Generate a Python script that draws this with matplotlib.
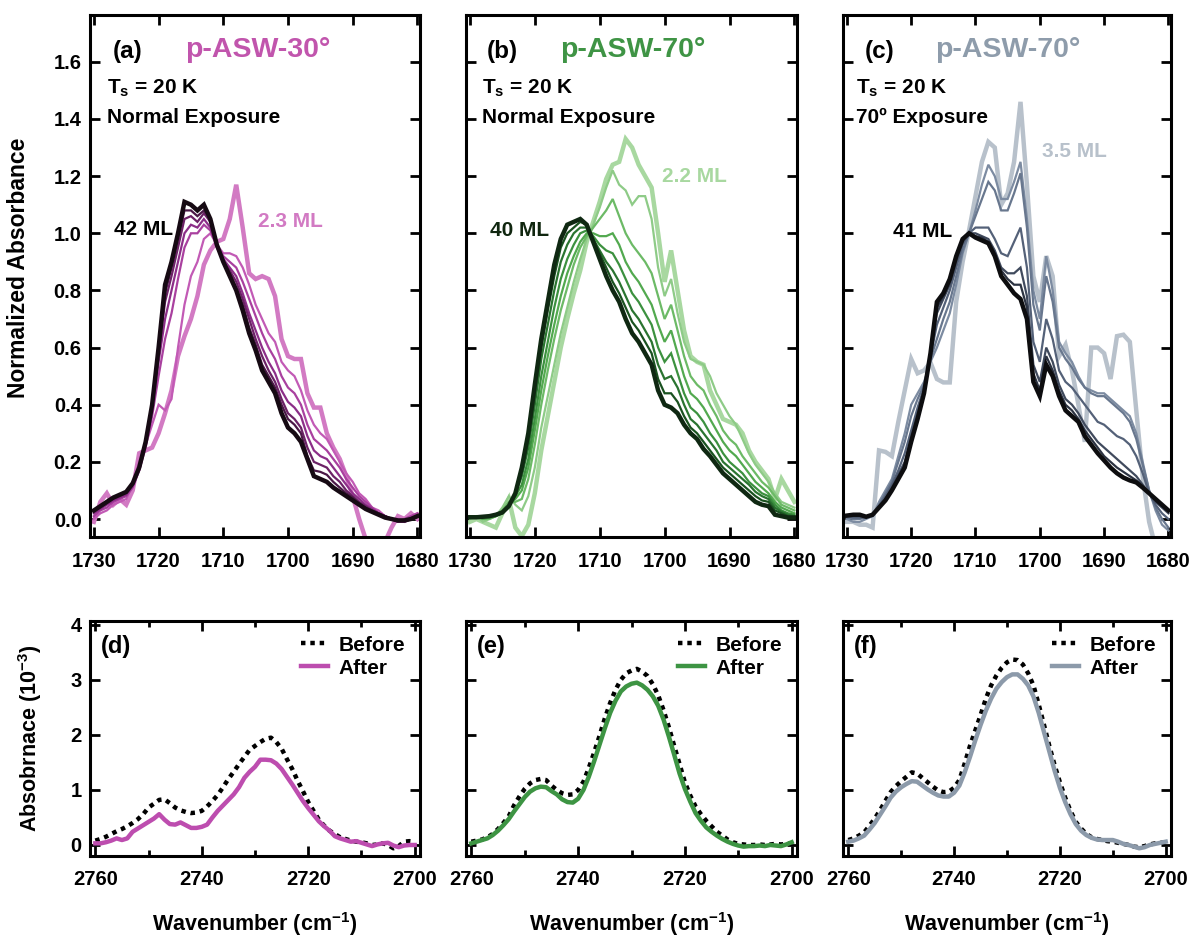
import numpy as np
import matplotlib
matplotlib.use('Agg')
from matplotlib import pyplot as plt
from matplotlib.ticker import MultipleLocator, FormatStrFormatter

plt.rcParams['font.family'] = ['Liberation Sans', 'DejaVu Sans']
plt.rcParams['font.weight'] = 'bold'
plt.rcParams['mathtext.fontset'] = 'custom'
plt.rcParams['mathtext.rm'] = 'Liberation Sans:bold'
plt.rcParams['mathtext.it'] = 'Liberation Sans:bold'
plt.rcParams['mathtext.bf'] = 'Liberation Sans:bold'

# wavenumber grids (cm-1)
wn_top = np.arange(1730, 1679, -1)
wn_bot = np.arange(2760, 2699, -1)

# ---- panel (a) p-ASW-30, 2.3 ML -> 42 ML
a_2 = [-0.01, 0.06, 0.09, 0.05, 0.07, 0.05, 0.10, 0.23, 0.24, 0.25,
       0.30, 0.37, 0.45, 0.57, 0.64, 0.70, 0.78, 0.89, 0.94, 0.97,
       0.98, 1.05, 1.17, 1.02, 0.86, 0.84, 0.85, 0.84, 0.78, 0.63,
       0.57, 0.56, 0.56, 0.44, 0.39, 0.39, 0.30, 0.25, 0.21, 0.15,
       0.08, 0.0, -0.07, -0.10, -0.10, -0.08, -0.03, 0.01, 0.0, 0.02, 0.0]
a_c1 = [0.0, 0.02, 0.03, 0.05, 0.06, 0.07, 0.12, 0.20, 0.26, 0.33,
        0.40, 0.38, 0.42, 0.60, 0.75, 0.85, 0.90, 0.98, 1.00, 0.96,
        0.93, 0.93, 0.92, 0.88, 0.82, 0.75, 0.70, 0.65, 0.62, 0.55,
        0.52, 0.50, 0.45, 0.38, 0.33, 0.30, 0.28, 0.24, 0.20, 0.16,
        0.13, 0.09, 0.07, 0.04, 0.03, 0.01, 0.0, 0.0, -0.01, 0.01, 0.02]
a_c2 = [0.01, 0.03, 0.04, 0.06, 0.07, 0.08, 0.11, 0.17, 0.25, 0.36,
        0.50, 0.63, 0.72, 0.84, 0.95, 1.00, 1.00, 1.03, 1.01, 0.96,
        0.92, 0.90, 0.88, 0.83, 0.77, 0.71, 0.65, 0.60, 0.56, 0.50,
        0.46, 0.44, 0.40, 0.33, 0.28, 0.26, 0.24, 0.21, 0.18, 0.14,
        0.11, 0.08, 0.06, 0.04, 0.02, 0.01, 0.0, -0.01, 0.0, 0.01, 0.02]
a_c3 = [0.02, 0.035, 0.05, 0.065, 0.075, 0.085, 0.115, 0.17, 0.26, 0.38,
        0.55, 0.70, 0.80, 0.90, 1.00, 1.03, 1.02, 1.05, 1.02, 0.95,
        0.91, 0.88, 0.85, 0.79, 0.72, 0.66, 0.60, 0.55, 0.51, 0.45,
        0.41, 0.39, 0.36, 0.29, 0.24, 0.22, 0.21, 0.18, 0.15, 0.12,
        0.09, 0.07, 0.05, 0.035, 0.02, 0.01, 0.0, -0.01, -0.01, 0.0, 0.01]
a_c4 = [0.025, 0.04, 0.055, 0.07, 0.08, 0.09, 0.12, 0.175, 0.265, 0.39,
        0.58, 0.76, 0.85, 0.95, 1.05, 1.06, 1.04, 1.07, 1.04, 0.96,
        0.90, 0.87, 0.83, 0.77, 0.70, 0.63, 0.57, 0.52, 0.48, 0.42,
        0.37, 0.35, 0.32, 0.25, 0.20, 0.19, 0.18, 0.15, 0.13, 0.10,
        0.08, 0.06, 0.045, 0.03, 0.02, 0.01, 0.0, -0.01, -0.01, 0.0, 0.01]
a_c5 = [0.03, 0.045, 0.06, 0.075, 0.085, 0.095, 0.125, 0.18, 0.27, 0.40,
        0.59, 0.79, 0.88, 0.98, 1.08, 1.08, 1.06, 1.08, 1.05, 0.96,
        0.90, 0.86, 0.81, 0.75, 0.67, 0.61, 0.54, 0.50, 0.46, 0.40,
        0.35, 0.33, 0.30, 0.22, 0.17, 0.165, 0.155, 0.13, 0.11, 0.09,
        0.075, 0.055, 0.04, 0.03, 0.02, 0.01, 0.0, -0.005, -0.005, 0.0, 0.01]
a_42 = [0.03, 0.045, 0.06, 0.075, 0.085, 0.095, 0.125, 0.18, 0.27, 0.40,
        0.60, 0.82, 0.90, 1.00, 1.11, 1.10, 1.08, 1.10, 1.05, 0.96,
        0.90, 0.85, 0.80, 0.73, 0.65, 0.59, 0.52, 0.48, 0.44, 0.37,
        0.32, 0.30, 0.27, 0.21, 0.15, 0.14, 0.13, 0.11, 0.095, 0.08,
        0.065, 0.05, 0.035, 0.025, 0.015, 0.005, 0.0, -0.005, -0.005, 0.0, 0.01]

# ---- panel (b) p-ASW-70, 2.2 ML -> 40 ML
b_2 = [-0.01, 0.0, -0.01, -0.02, -0.03, 0.02, 0.07, -0.03, -0.06, -0.02,
       0.09, 0.24, 0.36, 0.48, 0.60, 0.70, 0.79, 0.87, 0.97, 1.04,
       1.11, 1.19, 1.24, 1.25, 1.33, 1.30, 1.24, 1.20, 1.16, 1.0,
       0.83, 0.94, 0.80, 0.66, 0.57, 0.55, 0.54, 0.45, 0.40, 0.35,
       0.34, 0.33, 0.30, 0.24, 0.20, 0.17, 0.14, 0.07, 0.14, 0.10, 0.06]
b_t1 = [0.0, 0.01, -0.01, 0.0, 0.01, 0.04, 0.08, 0.05, 0.03, 0.08,
        0.18, 0.32, 0.43, 0.54, 0.65, 0.74, 0.83, 0.91, 0.98, 1.03,
        1.09, 1.16, 1.22, 1.17, 1.15, 1.10, 1.13, 1.13, 1.05, 0.88,
        0.78, 0.84, 0.72, 0.62, 0.56, 0.55, 0.54, 0.50, 0.44, 0.40,
        0.36, 0.33, 0.28, 0.23, 0.19, 0.16, 0.13, 0.09, 0.06, 0.05, 0.04]
b_t2 = [0.01, 0.01, 0.0, 0.0, 0.01, 0.03, 0.06, 0.06, 0.07, 0.14,
        0.26, 0.40, 0.52, 0.63, 0.73, 0.81, 0.89, 0.95, 0.99, 1.02,
        1.05, 1.08, 1.12, 1.06, 1.00, 0.96, 0.93, 0.90, 0.86, 0.78,
        0.70, 0.75, 0.66, 0.57, 0.50, 0.47, 0.45, 0.40, 0.36, 0.31,
        0.28, 0.26, 0.22, 0.19, 0.16, 0.13, 0.11, 0.08, 0.05, 0.04, 0.03]
b_t3 = [0.01, 0.01, 0.0, 0.005, 0.01, 0.025, 0.05, 0.07, 0.10, 0.18,
        0.31, 0.45, 0.57, 0.68, 0.78, 0.86, 0.92, 0.97, 1.0, 1.0,
        0.99, 0.99, 1.0, 0.96, 0.90, 0.86, 0.83, 0.79, 0.75, 0.68,
        0.62, 0.66, 0.58, 0.50, 0.44, 0.42, 0.39, 0.35, 0.31, 0.27,
        0.24, 0.22, 0.19, 0.16, 0.13, 0.11, 0.09, 0.06, 0.04, 0.03, 0.02]
b_t4 = [0.01, 0.01, 0.005, 0.005, 0.01, 0.02, 0.045, 0.08, 0.12, 0.21,
        0.35, 0.50, 0.62, 0.74, 0.84, 0.91, 0.96, 1.0, 1.01, 0.99,
        0.96, 0.94, 0.93, 0.89, 0.84, 0.79, 0.76, 0.72, 0.68, 0.60,
        0.55, 0.58, 0.51, 0.44, 0.39, 0.37, 0.34, 0.30, 0.27, 0.23,
        0.20, 0.18, 0.16, 0.13, 0.11, 0.09, 0.08, 0.05, 0.03, 0.02, 0.015]
b_t5 = [0.01, 0.008, 0.006, 0.008, 0.012, 0.02, 0.045, 0.085, 0.15, 0.25,
        0.40, 0.56, 0.68, 0.80, 0.90, 0.96, 1.0, 1.02, 1.02, 0.98,
        0.94, 0.90, 0.87, 0.83, 0.78, 0.73, 0.70, 0.66, 0.62, 0.54,
        0.49, 0.50, 0.46, 0.40, 0.35, 0.33, 0.30, 0.27, 0.24, 0.20,
        0.18, 0.16, 0.14, 0.12, 0.095, 0.08, 0.07, 0.04, 0.025, 0.015, 0.01]
b_t6 = [0.008, 0.007, 0.007, 0.009, 0.013, 0.022, 0.045, 0.088, 0.17, 0.28,
        0.44, 0.60, 0.73, 0.85, 0.95, 1.0, 1.02, 1.04, 1.03, 0.98,
        0.93, 0.88, 0.83, 0.79, 0.74, 0.69, 0.66, 0.62, 0.58, 0.49,
        0.44, 0.44, 0.41, 0.36, 0.32, 0.30, 0.27, 0.24, 0.21, 0.18,
        0.16, 0.14, 0.12, 0.10, 0.08, 0.065, 0.06, 0.03, 0.02, 0.01, 0.008]
b_40 = [0.006, 0.006, 0.008, 0.01, 0.015, 0.023, 0.045, 0.09, 0.18, 0.30,
        0.47, 0.63, 0.76, 0.89, 0.98, 1.03, 1.04, 1.05, 1.03, 0.97,
        0.91, 0.85, 0.80, 0.76, 0.70, 0.65, 0.62, 0.58, 0.54, 0.45,
        0.40, 0.39, 0.37, 0.33, 0.30, 0.28, 0.245, 0.22, 0.19, 0.16,
        0.14, 0.12, 0.10, 0.08, 0.06, 0.05, 0.045, 0.015, 0.01, 0.005, 0.005]

# ---- panel (c) p-ASW-70, 70 deg exposure, 3.5 ML -> 41 ML
c_3 = [-0.01, -0.01, -0.02, -0.02, -0.03, 0.24, 0.235, 0.22, 0.34, 0.45,
       0.56, 0.51, 0.52, 0.548, 0.49, 0.478, 0.478, 0.76, 0.90, 1.01,
       1.13, 1.25, 1.32, 1.30, 1.10, 1.14, 1.25, 1.46, 1.17, 0.85,
       0.76, 0.92, 0.85, 0.57, 0.61, 0.52, 0.40, 0.27, 0.60, 0.60,
       0.58, 0.49, 0.64, 0.645, 0.62, 0.38, 0.15, -0.01, -0.10, -0.12, -0.12]
c_g1 = [0.0, -0.01, -0.01, 0.0, 0.01, 0.06, 0.10, 0.14, 0.22, 0.30,
        0.40, 0.44, 0.48, 0.55, 0.60, 0.66, 0.72, 0.82, 0.93, 1.0,
        1.08, 1.17, 1.24, 1.20, 1.12, 1.12, 1.18, 1.25, 1.05, 0.80,
        0.70, 0.92, 0.80, 0.62, 0.58, 0.55, 0.50, 0.46, 0.45, 0.44,
        0.44, 0.42, 0.40, 0.38, 0.36, 0.30, 0.20, 0.10, 0.03, -0.02, -0.04]
c_g2 = [0.005, 0.0, 0.0, 0.005, 0.01, 0.05, 0.09, 0.13, 0.20, 0.27,
        0.36, 0.42, 0.47, 0.56, 0.63, 0.70, 0.76, 0.85, 0.94, 1.0,
        1.06, 1.12, 1.18, 1.15, 1.08, 1.08, 1.14, 1.21, 1.02, 0.75,
        0.66, 0.85, 0.76, 0.60, 0.56, 0.53, 0.49, 0.46, 0.44, 0.43,
        0.43, 0.41, 0.39, 0.37, 0.34, 0.28, 0.19, 0.10, 0.04, 0.0, -0.03]
c_g3 = [0.01, 0.005, 0.005, 0.005, 0.012, 0.045, 0.08, 0.12, 0.17, 0.23,
        0.31, 0.39, 0.46, 0.57, 0.68, 0.74, 0.80, 0.88, 0.96, 1.0,
        1.02, 1.02, 1.02, 0.98, 0.93, 0.92, 0.97, 1.02, 0.88, 0.62,
        0.55, 0.70, 0.63, 0.52, 0.48, 0.46, 0.43, 0.40, 0.37, 0.34,
        0.33, 0.31, 0.29, 0.28, 0.26, 0.22, 0.16, 0.09, 0.05, 0.02, 0.0]
c_g4 = [0.01, 0.01, 0.01, 0.007, 0.013, 0.042, 0.072, 0.11, 0.155, 0.20,
        0.29, 0.37, 0.45, 0.58, 0.72, 0.77, 0.82, 0.90, 0.97, 1.0,
        1.0, 0.99, 0.98, 0.94, 0.88, 0.86, 0.86, 0.88, 0.78, 0.54,
        0.48, 0.60, 0.55, 0.47, 0.42, 0.40, 0.37, 0.33, 0.30, 0.27,
        0.25, 0.23, 0.21, 0.19, 0.17, 0.15, 0.12, 0.09, 0.06, 0.04, 0.02]
c_g5 = [0.012, 0.013, 0.012, 0.008, 0.014, 0.04, 0.068, 0.105, 0.145, 0.19,
        0.28, 0.36, 0.44, 0.58, 0.74, 0.78, 0.83, 0.91, 0.975, 1.0,
        0.99, 0.985, 0.97, 0.93, 0.87, 0.84, 0.82, 0.82, 0.74, 0.51,
        0.45, 0.57, 0.52, 0.45, 0.40, 0.38, 0.35, 0.31, 0.28, 0.25,
        0.22, 0.20, 0.18, 0.165, 0.15, 0.135, 0.115, 0.09, 0.065, 0.045, 0.03]
c_41 = [0.012, 0.015, 0.015, 0.008, 0.015, 0.04, 0.065, 0.10, 0.14, 0.18,
        0.27, 0.35, 0.44, 0.58, 0.76, 0.79, 0.84, 0.92, 0.98, 1.0,
        0.985, 0.975, 0.965, 0.92, 0.85, 0.82, 0.79, 0.77, 0.70, 0.48,
        0.43, 0.54, 0.50, 0.43, 0.38, 0.36, 0.34, 0.29, 0.26, 0.23,
        0.205, 0.18, 0.16, 0.145, 0.135, 0.128, 0.11, 0.09, 0.07, 0.05, 0.03]

# ---- lower panels, OD stretch before / after (1e-3)
d_before = [0.08, 0.11, 0.15, 0.20, 0.25, 0.29, 0.34, 0.40, 0.47, 0.56,
            0.68, 0.75, 0.82, 0.83, 0.76, 0.68, 0.63, 0.60, 0.58, 0.59,
            0.62, 0.70, 0.80, 0.91, 1.05, 1.20, 1.33, 1.47, 1.60, 1.73,
            1.80, 1.87, 1.93, 1.95, 1.87, 1.75, 1.56, 1.38, 1.17, 0.98,
            0.78, 0.62, 0.46, 0.35, 0.26, 0.20, 0.14, 0.11, 0.08, 0.06,
            0.05, 0.03, 0.0, 0.01, 0.03, 0.0, -0.06, -0.02, 0.06, 0.07, 0.06]
d_after = [0.03, 0.03, 0.05, 0.08, 0.12, 0.09, 0.12, 0.24, 0.30, 0.36,
           0.42, 0.48, 0.56, 0.46, 0.38, 0.37, 0.41, 0.36, 0.31, 0.31,
           0.33, 0.37, 0.50, 0.62, 0.72, 0.82, 0.92, 1.05, 1.22, 1.33,
           1.42, 1.55, 1.55, 1.54, 1.48, 1.38, 1.24, 1.10, 0.95, 0.80,
           0.67, 0.55, 0.43, 0.34, 0.26, 0.16, 0.12, 0.09, 0.06, 0.07,
           0.04, 0.01, -0.02, 0.01, 0.03, 0.04, -0.01, -0.04, -0.01, 0.0, 0.0]
e_before = [0.06, 0.08, 0.10, 0.14, 0.20, 0.29, 0.40, 0.52, 0.72, 0.88,
            1.02, 1.12, 1.18, 1.20, 1.18, 1.08, 1.00, 0.94, 0.91, 0.92,
            1.00, 1.15, 1.40, 1.68, 1.98, 2.30, 2.58, 2.82, 3.00, 3.12,
            3.17, 3.20, 3.15, 3.07, 2.92, 2.72, 2.45, 2.14, 1.80, 1.47,
            1.14, 0.90, 0.70, 0.56, 0.44, 0.34, 0.24, 0.17, 0.10, 0.05,
            0.02, 0.01, 0.0, 0.0, 0.01, 0.0, 0.01, 0.02, 0.01, 0.02, 0.03]
e_after = [0.03, 0.06, 0.09, 0.12, 0.18, 0.26, 0.36, 0.47, 0.61, 0.74,
           0.87, 0.97, 1.03, 1.06, 1.05, 0.98, 0.92, 0.83, 0.78, 0.77,
           0.84, 1.0, 1.24, 1.52, 1.82, 2.12, 2.40, 2.62, 2.79, 2.88,
           2.93, 2.95, 2.90, 2.82, 2.70, 2.53, 2.28, 1.97, 1.64, 1.30,
           1.02, 0.79, 0.58, 0.44, 0.32, 0.24, 0.17, 0.11, 0.06, 0.02,
           -0.01, -0.03, -0.02, -0.02, -0.01, -0.02, 0.0, -0.01, -0.02, 0.01, 0.05]
f_before = [0.09, 0.12, 0.17, 0.23, 0.35, 0.48, 0.63, 0.80, 0.96, 1.07,
            1.16, 1.24, 1.32, 1.30, 1.22, 1.14, 1.06, 0.99, 0.96, 0.97,
            1.04, 1.18, 1.48, 1.80, 2.08, 2.36, 2.66, 2.90, 3.08, 3.22,
            3.32, 3.37, 3.36, 3.28, 3.12, 2.90, 2.55, 2.18, 1.80, 1.45,
            1.14, 0.86, 0.62, 0.42, 0.30, 0.20, 0.14, 0.11, 0.09, 0.07,
            0.06, 0.04, 0.02, 0.0, -0.03, -0.04, -0.02, 0.01, 0.03, 0.04, 0.05]
f_after = [0.06, 0.08, 0.12, 0.17, 0.28, 0.40, 0.55, 0.70, 0.86, 0.97,
           1.05, 1.11, 1.16, 1.15, 1.08, 1.01, 0.95, 0.90, 0.88, 0.88,
           0.95, 1.08, 1.32, 1.60, 1.90, 2.18, 2.44, 2.66, 2.84, 2.96,
           3.05, 3.10, 3.10, 3.02, 2.90, 2.70, 2.40, 2.05, 1.70, 1.35,
           1.04, 0.78, 0.56, 0.38, 0.26, 0.18, 0.13, 0.10, 0.09, 0.09,
           0.09, 0.06, 0.02, 0.0, -0.03, -0.06, -0.04, 0.0, 0.02, 0.04, 0.06]

top_series = [
    [a_2, a_c1, a_c2, a_c3, a_c4, a_c5, a_42],
    [b_2, b_t1, b_t2, b_t3, b_t4, b_t5, b_t6, b_40],
    [c_3, c_g1, c_g2, c_g3, c_g4, c_g5, c_41],
]
top_colors = [
    ['#d27ac3', '#c25ab5', '#a9409f', '#8c2e88', '#6c2266', '#4a1846', '#160a13'],
    ['#a8d8a0', '#8ecb87', '#6cba66', '#52a94f', '#3c913f', '#2a7430', '#1a5220', '#0f2812'],
    ['#b8c1cb', '#7c8ba1', '#68778e', '#546178', '#404a5d', '#2c3342', '#0d0d0f'],
]
titles = ['p-ASW-30°', 'p-ASW-70°', 'p-ASW-70°']
title_col = ['#c155ad', '#3f9445', '#8e9cab']
tags_top = ['(a)', '(b)', '(c)']
exposure = ['Normal Exposure', 'Normal Exposure', '70º Exposure']
thin_lab = ['2.3 ML', '2.2 ML', '3.5 ML']
thin_pos = [(1704.7, 1.023), (1700.4, 1.178), (1699.6, 1.266)]
thick_lab = ['42 ML', '40 ML', '41 ML']
thick_pos = [(1726.9, 0.993), (1726.9, 0.99), (1722.9, 0.986)]
thick_col = ['black', '#10260f', 'black']
lab_x = [0.052, 0.048, 0.040]
tag_x = [0.068, 0.064, 0.065]
ttl_x = [0.288, 0.284, 0.28]

bot_before = [d_before, e_before, f_before]
bot_after = [d_after, e_after, f_after]
after_col = ['#bd4daf', '#3d9443', '#8c9aaa']
tags_bot = ['(d)', '(e)', '(f)']

W, H = 1192, 938
fig = plt.figure(figsize=(W / 100, H / 100), dpi=100)
lefts = [90, 466, 843]
widths = [330, 331, 328]


def style(ax):
    for s in ax.spines.values():
        s.set_linewidth(2.2)
    ax.tick_params(which='both', direction='in', top=True, right=True,
                   width=2, labelsize=14.5)
    ax.tick_params(which='major', length=7)
    ax.tick_params(which='minor', length=4)


for i in range(3):
    ax = fig.add_axes([lefts[i] / W, 1 - 537 / H, widths[i] / W, 522 / H])
    style(ax)
    n = len(top_series[i])
    for k in range(n):
        lw = 3.2 if k in (0, n - 1) else 1.6
        ax.plot(wn_top, top_series[i][k], color=top_colors[i][k], lw=lw,
                solid_joinstyle='miter')
    ax.set_xlim(1730.6, 1679.6)
    ax.set_ylim(-0.063, 1.764)
    ax.xaxis.set_major_locator(MultipleLocator(10))
    ax.yaxis.set_major_locator(MultipleLocator(0.2))
    ax.yaxis.set_major_formatter(FormatStrFormatter('%.1f'))
    ax.tick_params(axis='x', pad=11)
    ax.tick_params(axis='y', pad=6)
    if i > 0:
        ax.tick_params(labelleft=False)

    ax.text(tag_x[i], 0.918, tags_top[i], transform=ax.transAxes, fontsize=17.5,
            va='baseline')
    ax.text(ttl_x[i], 0.92, titles[i], transform=ax.transAxes, fontsize=20.5,
            color=title_col[i], va='baseline')
    ax.text(lab_x[i], 0.85, r'T$_{\mathregular{s}}$ = 20 K', transform=ax.transAxes,
            fontsize=15, va='baseline')
    ax.text(lab_x[i], 0.794, exposure[i], transform=ax.transAxes, fontsize=15,
            va='baseline')
    ax.text(thick_pos[i][0], thick_pos[i][1], thick_lab[i], fontsize=15,
            color=thick_col[i], va='baseline')
    ax.text(thin_pos[i][0], thin_pos[i][1], thin_lab[i], fontsize=15,
            color=top_colors[i][0], va='baseline')

for i in range(3):
    ax = fig.add_axes([lefts[i] / W, 1 - 856 / H, widths[i] / W, 235 / H])
    style(ax)
    ax.plot(wn_bot, bot_before[i], color='black', lw=3.2,
            linestyle=(0, (1, 1.1)), label='Before')
    ax.plot(wn_bot, bot_after[i], color=after_col[i], lw=3.2, label='After')
    ax.set_xlim(2761, 2699)
    ax.set_ylim(-0.2, 4.07)
    ax.xaxis.set_major_locator(MultipleLocator(20))
    ax.xaxis.set_minor_locator(MultipleLocator(10))
    ax.yaxis.set_major_locator(MultipleLocator(1))
    ax.tick_params(axis='x', pad=10)
    ax.tick_params(axis='y', pad=6)
    if i > 0:
        ax.tick_params(labelleft=False)
    ax.text(0.032, 0.862, tags_bot[i], transform=ax.transAxes, fontsize=17,
            va='baseline')
    ax.legend(loc='upper right', frameon=False, fontsize=15, handlelength=1.3,
              handletextpad=0.5, borderaxespad=0.5, labelspacing=0.2,
              borderpad=0.2)
    fig.text((lefts[i] + widths[i] / 2) / W, 1 - 931 / H,
             r'Wavenumber (cm$^{-1}$)', ha='center', va='baseline', fontsize=15.5)

fig.text(19 / W, 1 - 268 / H, 'Normalized Absorbance', rotation=90,
         ha='center', va='center', fontsize=16.5)
fig.text(30 / W, 1 - 738 / H, r'Absobrnace (10$^{-3}$)', rotation=90,
         ha='center', va='center', fontsize=15.5)

fig.savefig('out.png', dpi=100)
